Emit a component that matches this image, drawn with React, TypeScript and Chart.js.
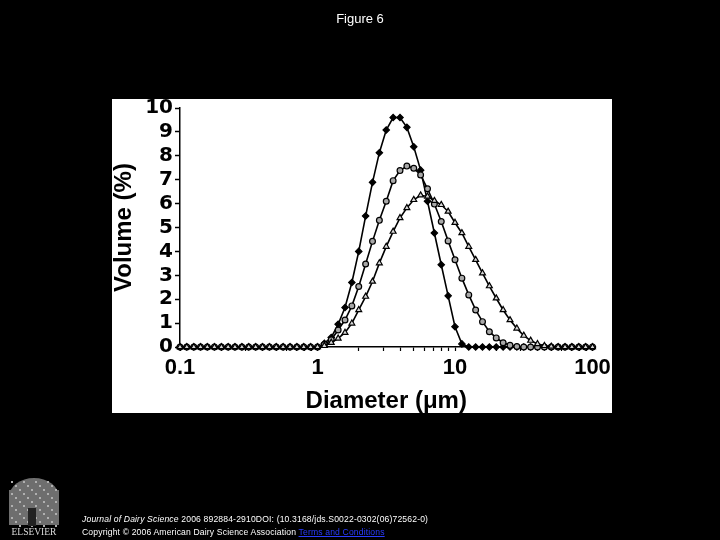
import React, { useEffect, useRef } from 'react';
import { Chart, registerables } from 'chart.js';

Chart.register(...registerables);

// Particle diameter (µm), log-spaced bins (20 per decade)
const DIAMETER = [
  0.1, 0.112, 0.126, 0.141, 0.158, 0.178, 0.2, 0.224, 0.251, 0.282,
  0.316, 0.355, 0.398, 0.447, 0.501, 0.562, 0.631, 0.708, 0.794, 0.891,
  1, 1.122, 1.259, 1.413, 1.585, 1.778, 1.995, 2.239, 2.512, 2.818,
  3.162, 3.548, 3.981, 4.467, 5.012, 5.623, 6.31, 7.079, 7.943, 8.913,
  10, 11.22, 12.59, 14.13, 15.85, 17.78, 19.95, 22.39, 25.12, 28.18,
  31.62, 35.48, 39.81, 44.67, 50.12, 56.23, 63.1, 70.79, 79.43, 89.13,
  100,
];

// Volume (%) — filled diamonds
const VOLUME_DIAMOND = [
  0, 0, 0, 0, 0, 0, 0, 0, 0, 0,
  0, 0, 0, 0, 0, 0, 0, 0, 0, 0,
  0, 0.15, 0.4, 0.95, 1.65, 2.7, 4.0, 5.48, 6.89, 8.13,
  9.08, 9.6, 9.6, 9.19, 8.38, 7.4, 6.1, 4.77, 3.44, 2.14,
  0.85, 0.13, 0, 0, 0, 0, 0, 0, 0, 0,
  0, 0, 0, 0, 0, 0, 0, 0, 0, 0,
  0,
];

// Volume (%) — open circles
const VOLUME_CIRCLE = [
  0, 0, 0, 0, 0, 0, 0, 0, 0, 0,
  0, 0, 0, 0, 0, 0, 0, 0, 0, 0,
  0, 0.1, 0.3, 0.71, 1.13, 1.72, 2.53, 3.47, 4.42, 5.3,
  6.1, 6.96, 7.38, 7.57, 7.48, 7.2, 6.62, 5.98, 5.25, 4.44,
  3.65, 2.88, 2.18, 1.55, 1.06, 0.64, 0.38, 0.18, 0.07, 0.02,
  0, 0, 0, 0, 0, 0, 0, 0, 0, 0,
  0,
];

// Volume (%) — open triangles
const VOLUME_TRIANGLE = [
  0, 0, 0, 0, 0, 0, 0, 0, 0, 0,
  0, 0, 0, 0, 0, 0, 0, 0, 0, 0,
  0, 0.05, 0.18, 0.36, 0.6, 0.99, 1.55, 2.11, 2.74, 3.51,
  4.2, 4.83, 5.4, 5.82, 6.16, 6.35, 6.3, 6.12, 5.95, 5.67,
  5.2, 4.77, 4.2, 3.65, 3.09, 2.55, 2.04, 1.55, 1.13, 0.78,
  0.48, 0.27, 0.13, 0.05, 0.02, 0, 0, 0, 0, 0,
  0,
];

const X_TICK_VALUES = [0.1, 1, 10, 100];
const X_TICK_LABELS = ['0.1', '1', '10', '100'];
const X_MINOR_TICKS = [
  0.2, 0.3, 0.4, 0.5, 0.6, 0.7, 0.8, 0.9,
  2, 3, 4, 5, 6, 7, 8, 9,
  20, 30, 40, 50, 60, 70, 80, 90,
];
const Y_MIN = 0;
const Y_MAX = 10;
const Y_STEP = 1;

const X_TITLE = 'Diameter (\u03bcm)';
const Y_TITLE = 'Volume (%)';

const FONT = '"Liberation Sans", Arial, Helvetica, sans-serif';
const WIDE_FONT = '"DejaVu Sans", "Liberation Sans", Arial, sans-serif';

const toPoints = (ys: number[]) => DIAMETER.map((x, i) => ({ x, y: ys[i] }));

const backgroundPlugin = {
  id: 'slideBackground',
  beforeDraw(chart: any) {
    const c = chart.ctx;
    c.save();
    c.fillStyle = '#000';
    c.fillRect(0, 0, chart.width, chart.height);
    c.fillStyle = '#fff';
    c.fillRect(112, 99, 500, 314);
    // Elsevier tree logo (stylised)
    c.fillStyle = '#6e6e6e';
    c.beginPath();
    c.ellipse(34, 497, 25, 19, 0, 0, Math.PI * 2);
    c.fill();
    c.fillRect(9, 490, 50, 35);
    c.fillStyle = '#b0b0b0';
    for (let r = 0; r < 12; r++) {
      for (let q = 0; q < 12; q++) {
        if ((r * 7 + q * 5) % 3 === 0) c.fillRect(11 + q * 4, 481 + r * 4, 2, 2);
      }
    }
    c.fillStyle = '#222';
    c.fillRect(28, 508, 8, 18);
    c.restore();
  },
};

export default function App() {
  const canvasRef = useRef<HTMLCanvasElement | null>(null);

  useEffect(() => {
    if (!canvasRef.current) return;
    const common = {
      borderColor: '#000',
      borderWidth: 1.6,
      pointBorderColor: '#000',
      pointBorderWidth: 1.2,
      tension: 0,
      clip: false as any,
    };
    const chart = new Chart(canvasRef.current, {
      type: 'line',
      data: {
        datasets: [
          {
            ...common,
            label: 'triangle',
            data: toPoints(VOLUME_TRIANGLE),
            pointStyle: 'triangle',
            pointRadius: 3.4,
            pointBackgroundColor: '#d8d8d8',
          },
          {
            ...common,
            label: 'circle',
            data: toPoints(VOLUME_CIRCLE),
            pointStyle: 'circle',
            pointRadius: 2.9,
            pointBackgroundColor: '#a8a8a8',
          },
          {
            ...common,
            label: 'diamond',
            data: toPoints(VOLUME_DIAMOND),
            pointStyle: 'rectRot',
            pointRadius: 3.2,
            pointBackgroundColor: '#000',
          },
        ],
      },
      options: {
        animation: false,
        responsive: false,
        devicePixelRatio: 1,
        events: [],
        layout: { padding: { left: 112, right: 127.5, top: 108, bottom: 127 } },
        plugins: { legend: { display: false }, tooltip: { enabled: false } },
        scales: {
          x: {
            type: 'logarithmic',
            position: 'bottom',
            min: 0.1,
            max: 100,
            afterBuildTicks: (s: any) => {
              s.ticks = [...X_TICK_VALUES, ...X_MINOR_TICKS]
                .sort((a, b) => a - b)
                .map((v) => ({ value: v }));
            },
            afterFit: (s: any) => {
              s.height = 66;
            },
            ticks: {
              autoSkip: false,
              maxRotation: 0,
              minRotation: 0,
              padding: 4,
              color: '#000',
              font: { family: FONT, size: 22, weight: 'bold' },
              callback: (v: any) => {
                const i = X_TICK_VALUES.indexOf(Number(v));
                return i >= 0 ? X_TICK_LABELS[i] : '';
              },
            },
            grid: {
              drawOnChartArea: false,
              drawTicks: true,
              tickLength: 4,
              color: '#000',
              tickColor: '#000',
              tickWidth: 1.2,
            },
            border: { display: true, color: '#000', width: 1.5 },
            title: {
              display: true,
              text: X_TITLE,
              color: '#000',
              font: { family: FONT, size: 24, weight: 'bold', lineHeight: 1 },
              padding: { top: 0, bottom: 0 },
            },
          },
          y: {
            type: 'linear',
            min: Y_MIN,
            max: Y_MAX,
            afterFit: (s: any) => {
              s.width = 68;
            },
            ticks: {
              stepSize: Y_STEP,
              autoSkip: false,
              padding: 2,
              color: '#000',
              font: { family: WIDE_FONT, size: 20, weight: 'bold' },
            },
            grid: {
              drawOnChartArea: false,
              drawTicks: true,
              tickLength: 5,
              color: '#000',
              tickColor: '#000',
              tickWidth: 1.5,
            },
            border: { display: true, color: '#000', width: 1.5 },
            title: {
              display: true,
              text: Y_TITLE,
              color: '#000',
              font: { family: FONT, size: 24, weight: 'bold', lineHeight: 1 },
              padding: { top: 0, bottom: 0 },
            },
          },
        },
      } as any,
      plugins: [backgroundPlugin],
    });
    return () => chart.destroy();
  }, []);

  return (
    <div style={{ position: 'absolute', left: 0, top: 0, width: 720, height: 540, background: '#000', overflow: 'hidden' }}>
      <canvas ref={canvasRef} width={720} height={540} style={{ position: 'absolute', left: 0, top: 0 }} />
      <div
        style={{
          position: 'absolute', left: 0, top: 11, width: 720, textAlign: 'center',
          color: '#fff', fontFamily: FONT, fontSize: 13, lineHeight: '15px',
        }}
      >
        Figure 6
      </div>
      <div
        style={{
          position: 'absolute', left: 8, top: 527, width: 52, textAlign: 'center',
          color: '#ddd', fontFamily: '"Liberation Serif", "DejaVu Serif", serif', fontSize: 9.5, lineHeight: '11px',
        }}
      >
        ELSEVIER
      </div>
      <div
        style={{
          position: 'absolute', left: 82, top: 513, color: '#fff', fontFamily: FONT,
          fontSize: 8.6, lineHeight: '13px', whiteSpace: 'nowrap', letterSpacing: '0.15px',
        }}
      >
        <div>
          <i>Journal of Dairy Science</i> 2006 892884-2910DOI: (10.3168/jds.S0022-0302(06)72562-0)
        </div>
        <div>
          Copyright © 2006 American Dairy Science Association{' '}
          <span style={{ color: '#2a3cff', textDecoration: 'underline' }}>Terms and Conditions</span>
        </div>
      </div>
    </div>
  );
}
